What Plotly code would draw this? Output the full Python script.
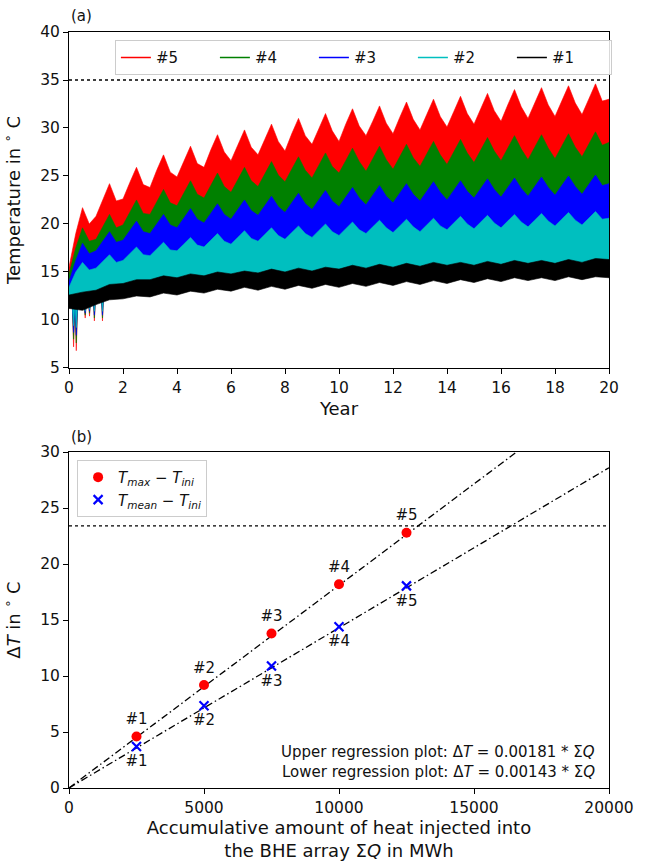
import plotly.graph_objects as go

# ---------------- Panel (a): temperature time series ----------------
# time grids (years)
t_quarter = [round(0.25 * i, 2) for i in range(81)]
t_half = [round(0.5 * i, 1) for i in range(41)]
t_low = [0, 0.12, 0.17, 0.22, 0.27, 0.32, 0.4, 0.55, 0.6, 0.65, 0.72, 0.76, 0.8, 0.9,
         0.94, 0.98, 1.2, 1.24, 1.28, 1.4, 2, 3, 4, 6, 8, 10, 12, 14, 16, 18, 20]

# upper edges of each band (read at quarter-year steps)
top_5 = [15.5, 19.0, 21.7, 20.0,
         20.8, 22.5, 24.2, 22.4,
         22.6, 24.3, 25.9, 24.1,
         23.8, 25.6, 27.2, 25.4,
         24.9, 26.5, 28.1, 26.3,
         25.9, 27.7, 29.3, 27.5,
         26.6, 28.2, 29.8, 28.0,
         27.2, 28.8, 30.4, 28.6,
         27.6, 29.4, 31.0, 29.2,
         28.3, 29.9, 31.5, 29.7,
         28.6, 30.4, 32.0, 30.2,
         29.2, 30.7, 32.3, 30.5,
         29.4, 31.1, 32.7, 30.9,
         29.8, 31.4, 33.0, 31.2,
         30.1, 31.7, 33.3, 31.5,
         30.4, 32.0, 33.6, 31.8,
         30.7, 32.4, 34.0, 32.2,
         31.0, 32.6, 34.2, 32.4,
         31.2, 32.8, 34.4, 32.6,
         31.4, 33.0, 34.6, 32.8,
         33.0]
top_4 = [14.8, 17.5, 19.6, 18.2,
         18.4, 19.7, 21.0, 19.6,
         19.9, 21.2, 22.5, 21.1,
         21.0, 22.3, 23.6, 22.2,
         21.9, 23.2, 24.5, 23.1,
         22.7, 24.0, 25.3, 23.9,
         23.3, 24.6, 25.9, 24.5,
         23.9, 25.2, 26.5, 25.1,
         24.4, 25.7, 27.0, 25.6,
         24.8, 26.1, 27.4, 26.0,
         25.3, 26.6, 27.9, 26.5,
         25.5, 26.8, 28.1, 26.7,
         25.7, 27.0, 28.3, 26.9,
         26.0, 27.3, 28.6, 27.2,
         26.2, 27.5, 28.8, 27.4,
         26.4, 27.7, 29.0, 27.6,
         26.6, 27.9, 29.2, 27.8,
         26.7, 28.0, 29.3, 27.9,
         26.8, 28.1, 29.4, 28.0,
         27.0, 28.3, 29.6, 28.2,
         28.5]
top_3 = [14.0, 16.2, 18.0, 16.9,
         17.2, 18.2, 19.2, 18.1,
         18.3, 19.3, 20.3, 19.2,
         19.0, 20.0, 21.0, 19.9,
         19.6, 20.6, 21.6, 20.5,
         20.1, 21.1, 22.1, 21.0,
         20.5, 21.5, 22.5, 21.4,
         20.9, 21.9, 22.9, 21.8,
         21.2, 22.2, 23.2, 22.1,
         21.5, 22.5, 23.5, 22.4,
         21.8, 22.8, 23.8, 22.7,
         22.0, 23.0, 24.0, 22.9,
         22.2, 23.2, 24.2, 23.1,
         22.4, 23.4, 24.4, 23.3,
         22.5, 23.5, 24.5, 23.4,
         22.7, 23.7, 24.7, 23.6,
         22.8, 23.8, 24.8, 23.7,
         22.9, 23.9, 24.9, 23.8,
         23.0, 24.0, 25.0, 23.9,
         23.1, 24.1, 25.1, 24.0,
         24.2]
top_2 = [13.4, 15.0, 16.0, 15.2,
         15.4, 16.1, 16.8, 16.0,
         16.2, 16.9, 17.6, 16.8,
         16.7, 17.4, 18.1, 17.3,
         17.2, 17.9, 18.6, 17.8,
         17.6, 18.3, 19.0, 18.2,
         17.9, 18.6, 19.3, 18.5,
         18.2, 18.9, 19.6, 18.8,
         18.4, 19.1, 19.8, 19.0,
         18.6, 19.3, 20.0, 19.2,
         18.8, 19.5, 20.2, 19.4,
         19.0, 19.7, 20.4, 19.6,
         19.1, 19.8, 20.5, 19.7,
         19.2, 19.9, 20.6, 19.8,
         19.4, 20.1, 20.8, 20.0,
         19.5, 20.2, 20.9, 20.1,
         19.6, 20.3, 21.0, 20.2,
         19.7, 20.4, 21.1, 20.3,
         19.8, 20.5, 21.2, 20.4,
         19.9, 20.6, 21.3, 20.5,
         20.6]

# lower edges of the coloured bands (narrow dips in the first 1.5 years)
low_5 = [11.8, 11.8, 7.2, 11.8, 6.8, 11.8, 11.8, 11.9, 10.2, 12.0, 12.0, 10.4, 12.2, 12.3,
         9.9, 12.3, 12.5, 9.9, 12.6, 12.7, 13.0, 13.3, 13.6, 14.0, 14.2, 14.4, 14.6, 14.8,
         15.0, 15.1, 15.2]
low_4 = [11.8, 11.8, 8.0, 11.8, 7.6, 11.8, 11.8, 11.9, 10.5, 12.0, 12.0, 10.7, 12.2, 12.3,
         10.2, 12.3, 12.5, 10.2, 12.6, 12.7, 13.0, 13.3, 13.6, 14.0, 14.2, 14.4, 14.6, 14.8,
         15.0, 15.1, 15.2]
low_3 = [11.8, 11.8, 8.7, 11.8, 8.4, 11.8, 11.8, 11.9, 10.7, 12.0, 12.0, 10.9, 12.2, 12.3,
         10.5, 12.3, 12.5, 10.5, 12.6, 12.7, 13.0, 13.3, 13.6, 14.0, 14.2, 14.4, 14.6, 14.8,
         15.0, 15.1, 15.2]
low_2 = [11.8, 11.8, 9.4, 11.8, 9.2, 11.8, 11.8, 11.9, 10.9, 12.0, 12.0, 11.1, 12.2, 12.3,
         10.9, 12.3, 12.5, 10.9, 12.6, 12.7, 13.0, 13.3, 13.6, 14.0, 14.2, 14.4, 14.6, 14.8,
         15.0, 15.1, 15.2]

# black band (#1), half-year steps
top_1 = [12.6, 12.9, 13.1, 13.7, 13.8, 14.2, 14.2, 14.6, 14.4, 14.8, 14.6, 15.0, 14.8, 15.1,
         14.9, 15.3, 15.0, 15.4, 15.1, 15.5, 15.3, 15.7, 15.4, 15.8, 15.5, 15.9, 15.6, 16.0,
         15.7, 16.0, 15.7, 16.1, 15.8, 16.2, 15.9, 16.2, 15.9, 16.3, 16.0, 16.4, 16.3]
low_1 = [11.2, 11.0, 11.6, 12.1, 12.2, 12.5, 12.4, 12.8, 12.6, 13.0, 12.8, 13.2, 13.0, 13.4,
         13.1, 13.5, 13.2, 13.6, 13.3, 13.7, 13.4, 13.8, 13.5, 13.9, 13.6, 14.0, 13.7, 14.1,
         13.8, 14.2, 13.9, 14.3, 14.0, 14.4, 14.1, 14.4, 14.1, 14.5, 14.2, 14.5, 14.4]

series_names = ["#5", "#4", "#3", "#2", "#1"]
series_colors = ["#ff0000", "#008000", "#0000ff", "#00bfbf", "#000000"]
series_bands = [
    (t_quarter, top_5, t_low, low_5),
    (t_quarter, top_4, t_low, low_4),
    (t_quarter, top_3, t_low, low_3),
    (t_quarter, top_2, t_low, low_2),
    (t_half, top_1, t_half, low_1),
]
limit_a = 35

# ---------------- Panel (b): temperature change vs heat ----------------
Q_inj = [2500, 5000, 7500, 10000, 12500]
dT_max = [4.6, 9.2, 13.8, 18.2, 22.8]
dT_mean = [3.7, 7.35, 10.9, 14.4, 18.05]
point_labels = ["#1", "#2", "#3", "#4", "#5"]
reg_slopes = [0.00181, 0.00143]
Q_range = [0, 20000]
limit_b = 23.4

FONT = "DejaVu Sans"
fig = go.Figure()

for name, color, (tt, top, tl, low) in zip(series_names, series_colors, series_bands):
    fig.add_trace(go.Scatter(
        x=list(tt) + list(reversed(tl)),
        y=list(top) + list(reversed(low)),
        fill="toself", fillcolor=color, mode="lines",
        line=dict(color=color, width=0.6),
        showlegend=False, hoverinfo="skip", xaxis="x", yaxis="y"))
for name, color in zip(series_names, series_colors):
    fig.add_trace(go.Scatter(x=[None], y=[None], mode="lines", name=name,
                             line=dict(color=color, width=1.6),
                             legend="legend", xaxis="x", yaxis="y"))

# regression lines
for s in reg_slopes:
    fig.add_trace(go.Scatter(x=Q_range, y=[s * q for q in Q_range], mode="lines",
                             line=dict(color="black", width=1.3, dash="7px,3px,1.5px,3px"),
                             showlegend=False, hoverinfo="skip", xaxis="x2", yaxis="y2"))

fig.add_trace(go.Scatter(x=Q_inj, y=dT_max, mode="markers",
                         marker=dict(color="#ff0000", size=10),
                         name="<i>T<sub>max</sub></i> \u2212 <i>T<sub>ini</sub></i>",
                         legend="legend2", xaxis="x2", yaxis="y2"))
fig.add_trace(go.Scatter(x=Q_inj, y=dT_mean, mode="markers",
                         marker=dict(symbol="x-thin", size=9, color="#0000ff",
                                     line=dict(color="#0000ff", width=2.2)),
                         name="<i>T<sub>mean</sub></i> \u2212 <i>T<sub>ini</sub></i>",
                         legend="legend2", xaxis="x2", yaxis="y2"))
fig.add_trace(go.Scatter(x=Q_inj, y=dT_max, mode="markers+text", text=point_labels,
                         textposition="top center", marker=dict(size=12, opacity=0),
                         textfont=dict(family=FONT, size=15, color="#111"),
                         showlegend=False, hoverinfo="skip", xaxis="x2", yaxis="y2"))
fig.add_trace(go.Scatter(x=Q_inj, y=dT_mean, mode="markers+text", text=point_labels,
                         textposition="bottom center", marker=dict(size=12, opacity=0),
                         textfont=dict(family=FONT, size=15, color="#111"),
                         showlegend=False, hoverinfo="skip", xaxis="x2", yaxis="y2"))

axis_style = dict(showline=True, linecolor="black", linewidth=1, mirror=True,
                  ticks="outside", ticklen=5, tickwidth=1, tickcolor="black",
                  showgrid=False, zeroline=False,
                  tickfont=dict(family=FONT, size=15.5, color="#111"))

fig.update_layout(
    width=646, height=866,
    margin=dict(l=69, r=26, t=32, b=78),
    paper_bgcolor="white", plot_bgcolor="white",
    font=dict(family=FONT, color="#111"),
    xaxis=dict(domain=[0, 1], anchor="y", range=[0, 20], tick0=0, dtick=2,
               title=dict(text="Year", font=dict(family=FONT, size=18), standoff=6),
               **axis_style),
    yaxis=dict(domain=[0.5556, 1], anchor="x", range=[5, 40], tick0=5, dtick=5,
               title=dict(text="Temperature in <sup>\u2218</sup> C", font=dict(family=FONT, size=18)),
               **axis_style),
    xaxis2=dict(domain=[0, 1], anchor="y2", range=[0, 20000], tick0=0, dtick=5000,
                tickformat="d",
                title=dict(text="Accumulative amount of heat injected into<br>the BHE array \u03a3<i>Q</i> in MWh",
                           font=dict(family=FONT, size=18), standoff=0),
                **axis_style),
    yaxis2=dict(domain=[0, 0.4444], anchor="x2", range=[0, 30], tick0=0, dtick=5,
                title=dict(text="\u0394<i>T</i> in <sup>\u2218</sup> C", font=dict(family=FONT, size=18)),
                **axis_style),
    legend=dict(orientation="h", x=0.085, y=0.989, xanchor="left", yanchor="top",
                xref="paper", yref="paper",
                entrywidth=54, entrywidthmode="pixels",
                bgcolor="rgba(255,255,255,0.85)", bordercolor="#cccccc", borderwidth=1,
                font=dict(family=FONT, size=15, color="#111")),
    legend2=dict(orientation="v", x=0.015, y=0.434, xanchor="left", yanchor="top",
                 xref="paper", yref="paper",
                 bgcolor="rgba(255,255,255,0.85)", bordercolor="#cccccc", borderwidth=1,
                 font=dict(family=FONT, size=15, color="#111")),
    shapes=[
        dict(type="line", xref="x domain", yref="y", x0=0, x1=1, y0=limit_a, y1=limit_a,
             line=dict(color="black", width=1.3, dash="dot")),
        dict(type="line", xref="x2 domain", yref="y2", x0=0, x1=1, y0=limit_b, y1=limit_b,
             line=dict(color="black", width=1.3, dash="dot")),
    ],
    annotations=[
        dict(text="(a)", xref="paper", yref="paper", x=0.0, y=1.021, xanchor="left",
             yanchor="middle", showarrow=False, font=dict(family=FONT, size=15)),
        dict(text="(b)", xref="paper", yref="paper", x=0.0, y=0.464, xanchor="left",
             yanchor="middle", showarrow=False, font=dict(family=FONT, size=15)),
        dict(text="Upper regression plot: \u0394<i>T</i> = 0.00181 * \u03a3<i>Q</i>",
             xref="x2", yref="y2", x=19550, y=3.2, xanchor="right", yanchor="middle",
             showarrow=False, font=dict(family=FONT, size=15)),
        dict(text="Lower regression plot: \u0394<i>T</i> = 0.00143 * \u03a3<i>Q</i>",
             xref="x2", yref="y2", x=19550, y=1.4, xanchor="right", yanchor="middle",
             showarrow=False, font=dict(family=FONT, size=15)),
    ],
)

fig.write_html("out.html")
